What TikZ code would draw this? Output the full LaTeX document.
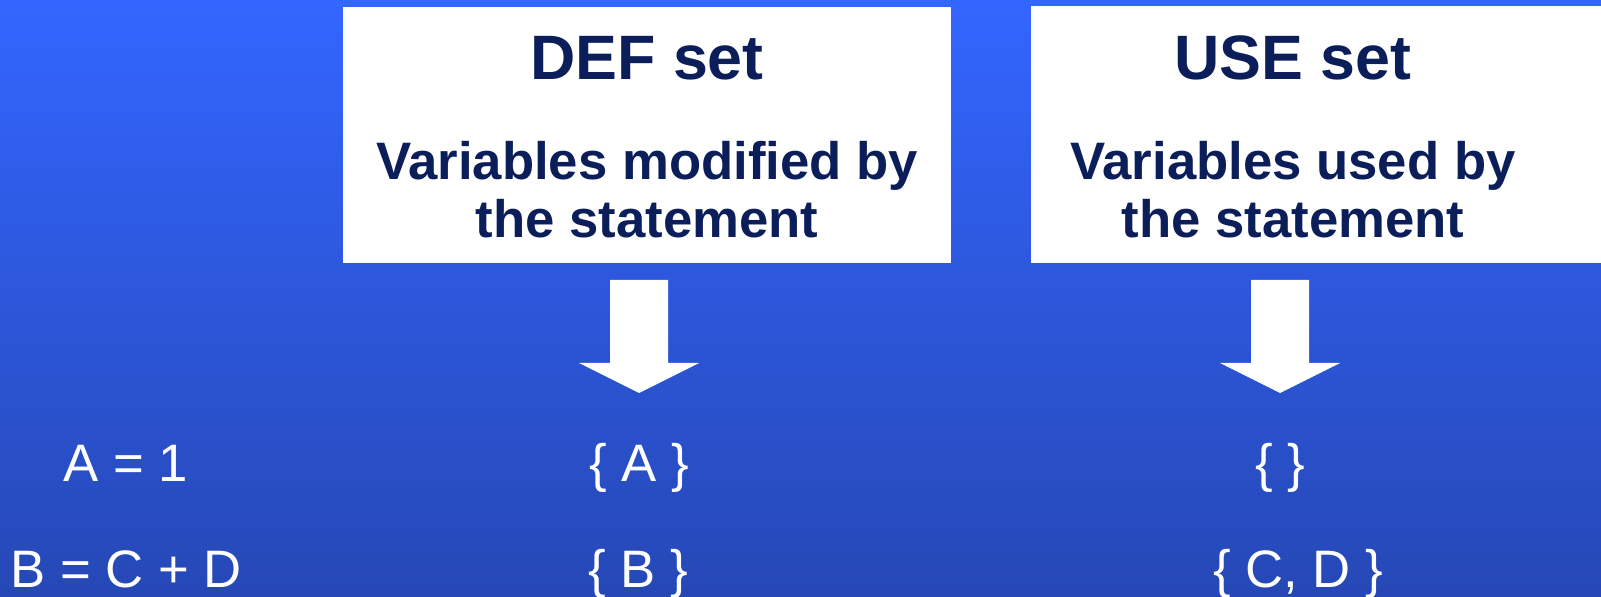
\documentclass[tikz,border=0pt]{standalone}
\usepackage{fontspec}
\setmainfont{Liberation Sans}
\usetikzlibrary{positioning}
\definecolor{slideblue}{RGB}{51,102,255}
\definecolor{slidedeep}{RGB}{38,72,182}
\definecolor{setnavy}{RGB}{11,30,90}
\tikzset{
  setbox/.style={fill=white, anchor=north west, inner sep=0pt},
  settitle/.style={font=\fontsize{35.7}{40}\selectfont\bfseries, text=setnavy, anchor=base},
  setnote/.style={font=\fontsize{30}{33.4}\selectfont\bfseries, text=setnavy, align=center, anchor=base},
  stmt/.style={font=\fontsize{30}{34}\selectfont, text=white, anchor=base},
  blockarrow/.style={fill=white}
}

\begin{document}
\begin{tikzpicture}[x=0.02cm, y=-0.02cm]
    % slide background
    \shade[top color=slideblue, bottom color=slidedeep] (0,0) rectangle (1601,597);
    \useasboundingbox (0,0) rectangle (1601,597);

    % the two set boxes
    \node[setbox, minimum width=12.16cm, minimum height=5.12cm] (defbox) at (343,7) {};
    \node[setbox, minimum width=11.4cm, minimum height=5.14cm] (usebox) at (1031,6) {};
    \node[settitle] (deftitle) at (647,80) {DEF set};
    \node[setnote] (defnote) at (647,238) {Variables modified by\\the statement};
    \node[settitle] (usetitle) at (1293,80) {USE set};
    \node[setnote] (usenote) at (1293,238) {Variables used by\\the statement};

    % statements and their sets
    \node[stmt] (stA) at (126,481) {A = 1};
    \node[stmt] (stB) at (126,587) {B = C + D};
    \node[stmt] (defA) at (639,481) {\{ A \}};
    \node[stmt] (defB) at (638,587) {\{ B \}};
    \node[stmt] (useA) at (1280,481) {\{ \}};
    \node[stmt] (useB) at (1298,587) {\{ C, D \}};

    % block arrows down to the first row
    \foreach \col in {defA,useA}
      \fill[blockarrow] (\col |- 0,280) ++(-29,0) -- ++(58,0) -- ++(0,83) -- ++(31,0)
        -- ++(-60,30) -- ++(-60,-30) -- ++(31,0) -- cycle;
\end{tikzpicture}
\end{document}
